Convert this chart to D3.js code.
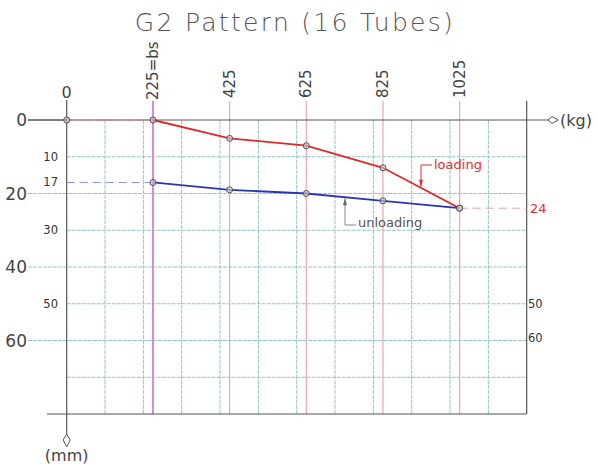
<!DOCTYPE html>
<html><head><meta charset="utf-8">
<script src="https://cdn.jsdelivr.net/npm/d3@7"></script>
<style>
html,body{margin:0;padding:0;background:#fff;}
svg{display:block;font-family:"DejaVu Sans","Liberation Sans",sans-serif;}
</style></head>
<body>
<svg id="c" width="597" height="467"></svg>
<script>
const loads = [225, 425, 625, 825, 1025];
const loadingVals = [0, 5, 7, 13, 24];
const unloadingVals = [17, 19, 20, 22, 24];
const loadLabels = ["225=bs", "425", "625", "825", "1025"];
const gridX = [100, 200, 300, 400, 500, 600, 700, 800, 900, 1000, 1100];
const gridY = [10, 20, 30, 40, 50, 60, 70];
const bigYLabels = [0, 20, 40, 60];
const smallYLabels = [10, 30, 50];
const rightYLabels = [50, 60];
const startValue = 17;
const endValue = 24;

const svg = d3.select("#c");
const x = d3.scaleLinear().domain([0, 1200]).range([66.7, 526.7]);
const y = d3.scaleLinear().domain([0, 80]).range([120, 414]);
const gridCol = "#96c6c6", pinkCol = "#eaa6b6", dark = "#555";

// title
svg.append("text").attr("x", 295).attr("y", 31).attr("text-anchor", "middle")
  .attr("font-size", 25).attr("fill", "#555").attr("font-weight", 200)
  .attr("letter-spacing", 2.3).text("G2 Pattern (16 Tubes)");

// horizontal grid
gridY.forEach(v => {
  const ext = bigYLabels.includes(v);
  svg.append("line").attr("x1", ext ? 28 : x(0)).attr("x2", x(1200))
    .attr("y1", y(v)).attr("y2", y(v)).attr("stroke", gridCol).attr("stroke-width", 1)
    .attr("stroke-dasharray", "4,1");
});
// vertical grid
gridX.forEach(v => {
  svg.append("line").attr("x1", x(v)).attr("x2", x(v)).attr("y1", y(0)).attr("y2", y(80))
    .attr("stroke", gridCol).attr("stroke-width", 1).attr("stroke-dasharray", "4,1");
});
// load lines
loads.forEach((v, i) => {
  svg.append("line").attr("x1", x(v)).attr("x2", x(v)).attr("y1", 101).attr("y2", y(80))
    .attr("stroke", i === 0 ? "#d58ad8" : pinkCol).attr("stroke-width", i === 0 ? 2 : 1.2);
});

// axes
svg.append("line").attr("x1", 28).attr("x2", 548).attr("y1", y(0)).attr("y2", y(0))
  .attr("stroke", dark).attr("stroke-width", 1.2);
svg.append("path").attr("d", `M548,${y(0)} L552,${y(0)-3.5} L558,${y(0)} L552,${y(0)+3.5} Z`)
  .attr("fill", "#fff").attr("stroke", dark).attr("stroke-width", 1);
svg.append("text").attr("x", 560).attr("y", y(0) + 6).attr("font-size", 16).attr("fill", "#444").text("(kg)");

svg.append("line").attr("x1", x(0)).attr("x2", x(0)).attr("y1", 100).attr("y2", 434)
  .attr("stroke", dark).attr("stroke-width", 1.2);
svg.append("path").attr("d", `M${x(0)},447 L${x(0)-3.5},440 L${x(0)},434 L${x(0)+3.5},440 Z`)
  .attr("fill", "#fff").attr("stroke", dark).attr("stroke-width", 1);
svg.append("text").attr("x", x(0)).attr("y", 461).attr("text-anchor", "middle")
  .attr("font-size", 16).attr("fill", "#444").text("(mm)");

svg.append("line").attr("x1", x(1200)).attr("x2", x(1200)).attr("y1", 101).attr("y2", y(80))
  .attr("stroke", dark).attr("stroke-width", 1.2);
svg.append("line").attr("x1", 47).attr("x2", x(1200)).attr("y1", y(80)).attr("y2", y(80))
  .attr("stroke", dark).attr("stroke-width", 1.2);

// top labels
svg.append("text").attr("x", x(0)).attr("y", 98).attr("text-anchor", "middle")
  .attr("font-size", 16).attr("fill", "#444").text("0");
loads.forEach((v, i) => {
  svg.append("text").attr("transform", `translate(${x(v) + 5},${i === 0 ? 100 : 98}) rotate(-90)`)
    .attr("font-size", 15).attr("fill", "#444").text(loadLabels[i]);
});

// y labels
bigYLabels.forEach(v => {
  svg.append("text").attr("x", 27).attr("y", y(v) + 6).attr("text-anchor", "end")
    .attr("font-size", 17).attr("fill", "#444").text(v);
});
svg.append("line").attr("x1", 28).attr("x2", x(0)).attr("y1", y(0)).attr("y2", y(0)).attr("stroke", dark);
smallYLabels.forEach(v => {
  svg.append("text").attr("x", 58).attr("y", y(v) + 4).attr("text-anchor", "end")
    .attr("font-size", 11.5).attr("fill", "#333").text(v);
});
svg.append("text").attr("x", 58).attr("y", y(startValue) + 4).attr("text-anchor", "end")
  .attr("font-size", 11.5).attr("fill", "#333").text(startValue);
rightYLabels.forEach(v => {
  svg.append("text").attr("x", 528).attr("y", y(v) + (v === 60 ? 1 : 4)).attr("text-anchor", "start")
    .attr("font-size", 11.5).attr("fill", "#333").text(v);
});

// dashed helpers
svg.append("line").attr("x1", x(0)).attr("x2", x(loads[0])).attr("y1", y(0)).attr("y2", y(0))
  .attr("stroke", "#e57070").attr("stroke-dasharray", "6,4").attr("stroke-width", 1);
svg.append("line").attr("x1", x(0)).attr("x2", x(loads[0])).attr("y1", y(startValue)).attr("y2", y(startValue))
  .attr("stroke", "#8f8ff0").attr("stroke-dasharray", "8,5").attr("stroke-width", 1);
svg.append("line").attr("x1", x(1025)).attr("x2", x(1200)).attr("y1", y(endValue)).attr("y2", y(endValue))
  .attr("stroke", "#f0a0a0").attr("stroke-dasharray", "8,5").attr("stroke-width", 1);
svg.append("text").attr("x", 530).attr("y", y(endValue) + 5).attr("font-size", 13)
  .attr("fill", "#e03030").text(endValue);

// series
const line = d3.line().x(d => x(d[0])).y(d => y(d[1]));
const loadData = loads.map((v, i) => [v, loadingVals[i]]);
const unloadData = loads.map((v, i) => [v, unloadingVals[i]]);
svg.append("path").datum(loadData).attr("d", line).attr("fill", "none")
  .attr("stroke", "#e02828").attr("stroke-width", 1.8);
svg.append("path").datum(unloadData).attr("d", line).attr("fill", "none")
  .attr("stroke", "#2a36b0").attr("stroke-width", 1.8);

const pts = [[0, 0]].concat(loadData, unloadData);
svg.selectAll("circle.m").data(pts).enter().append("circle").attr("class", "m")
  .attr("cx", d => x(d[0])).attr("cy", d => y(d[1])).attr("r", 3)
  .attr("fill", "#ccc").attr("fill-opacity", 0.6).attr("stroke", "#555").attr("stroke-width", 1);

// annotations
const lx = 421, ly = y(13) + (lx - x(825)) / (x(1025) - x(825)) * (y(24) - y(13));
svg.append("path").attr("d", `M432,165 L${lx},165 L${lx},${ly - 1}`)
  .attr("fill", "none").attr("stroke", "#e03030").attr("stroke-width", 1);
svg.append("path").attr("d", `M${lx - 2},${ly - 8} L${lx + 2},${ly - 8} L${lx},${ly - 1} Z`).attr("fill", "#e03030");
svg.append("text").attr("x", 434).attr("y", 169).attr("font-size", 13).attr("fill", "#e03030").text("loading");

const ux = 345, uy = y(20) + (ux - x(625)) / (x(825) - x(625)) * (y(22) - y(20));
svg.append("path").attr("d", `M356,225 L${ux},225 L${ux},${uy + 1}`)
  .attr("fill", "none").attr("stroke", "#888").attr("stroke-width", 1);
svg.append("path").attr("d", `M${ux - 2},${uy + 8} L${ux + 2},${uy + 8} L${ux},${uy + 1} Z`).attr("fill", "#666");
svg.append("text").attr("x", 358).attr("y", 227).attr("font-size", 13).attr("fill", "#555").text("unloading");
</script>
</body></html>
